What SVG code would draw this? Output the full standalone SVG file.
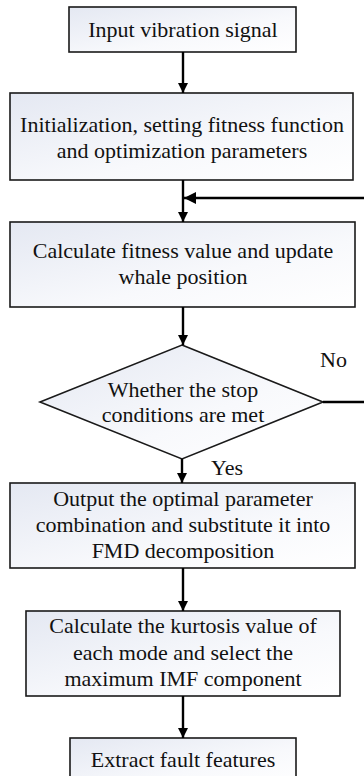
<svg xmlns="http://www.w3.org/2000/svg" width="364" height="776" viewBox="0 0 364 776">
<defs>
<linearGradient id="bg" x1="0" y1="0" x2="1" y2="1">
<stop offset="0" stop-color="#e4e8f2"/>
<stop offset="0.6" stop-color="#f8f9fc"/>
<stop offset="1" stop-color="#ffffff"/>
</linearGradient>
<marker id="ah" viewBox="0 0 10 10" refX="10" refY="5" markerWidth="10" markerHeight="10" markerUnits="userSpaceOnUse" orient="auto">
<path d="M0,0 L10,5 L0,10 Z" fill="#000"/>
</marker>
<marker id="ahl" viewBox="0 0 10 10" refX="10" refY="5" markerWidth="14" markerHeight="12" markerUnits="userSpaceOnUse" orient="auto">
<path d="M0,0 L10,5 L0,10 Z" fill="#000"/>
</marker>
</defs>
<style>
.box{fill:url(#bg);stroke:#1a1a1a;stroke-width:1.6}
.c{stroke:#000;stroke-width:2.4;fill:none}
</style>
<g id="n1"><rect class="box" x="69" y="7" width="227" height="45"/><text x="183" y="37" font-family="Liberation Serif" font-size="22" fill="#111" text-anchor="middle">Input vibration signal</text></g>
<g id="n2"><rect class="box" x="10" y="93" width="343" height="87"/><text x="182" y="132" font-family="Liberation Serif" font-size="22" fill="#111" text-anchor="middle">Initialization, setting fitness function</text><text x="182" y="158" font-family="Liberation Serif" font-size="22" fill="#111" text-anchor="middle">and optimization parameters</text></g>
<g id="n3"><rect class="box" x="10" y="222" width="345" height="85"/><text x="183" y="258" font-family="Liberation Serif" font-size="22" fill="#111" text-anchor="middle">Calculate fitness value and update</text><text x="183" y="284" font-family="Liberation Serif" font-size="22" fill="#111" text-anchor="middle">whale position</text></g>
<g id="n4"><polygon class="box" points="182,345 323,402 182,459 40,402"/><text x="183" y="397" font-family="Liberation Serif" font-size="22" fill="#111" text-anchor="middle">Whether the stop</text><text x="183" y="422" font-family="Liberation Serif" font-size="22" fill="#111" text-anchor="middle">conditions are met</text></g>
<g id="n5"><rect class="box" x="10" y="483" width="345" height="85"/><text x="183" y="506" font-family="Liberation Serif" font-size="22" fill="#111" text-anchor="middle">Output the optimal parameter</text><text x="183" y="532" font-family="Liberation Serif" font-size="22" fill="#111" text-anchor="middle">combination and substitute it into</text><text x="183" y="558" font-family="Liberation Serif" font-size="22" fill="#111" text-anchor="middle">FMD decomposition</text></g>
<g id="n6"><rect class="box" x="26" y="611" width="314" height="85"/><text x="183" y="633" font-family="Liberation Serif" font-size="22" fill="#111" text-anchor="middle">Calculate the kurtosis value of</text><text x="183" y="660" font-family="Liberation Serif" font-size="22" fill="#111" text-anchor="middle">each mode and select the</text><text x="183" y="686" font-family="Liberation Serif" font-size="22" fill="#111" text-anchor="middle">maximum IMF component</text></g>
<g id="n7"><rect class="box" x="70" y="738" width="226" height="50"/><text x="183" y="767" font-family="Liberation Serif" font-size="22" fill="#111" text-anchor="middle">Extract fault features</text></g>
<g id="connectors">
<line class="c" x1="183" y1="52" x2="183" y2="93" marker-end="url(#ah)"/>
<line class="c" x1="183" y1="180" x2="183" y2="222" marker-end="url(#ah)"/>
<line class="c" x1="183" y1="307" x2="183" y2="345" marker-end="url(#ah)"/>
<line class="c" x1="182" y1="459" x2="182" y2="483" marker-end="url(#ah)"/>
<line class="c" x1="183" y1="568" x2="183" y2="611" marker-end="url(#ah)"/>
<line class="c" x1="183" y1="696" x2="183" y2="738" marker-end="url(#ah)"/>
<line class="c" x1="323" y1="402" x2="364" y2="402"/>
<line class="c" x1="364" y1="198" x2="184" y2="198" marker-end="url(#ahl)"/>
<text x="320" y="367" font-family="Liberation Serif" font-size="22" fill="#111">No</text>
<text x="211" y="475" font-family="Liberation Serif" font-size="22" fill="#111">Yes</text>
</g>
</svg>
